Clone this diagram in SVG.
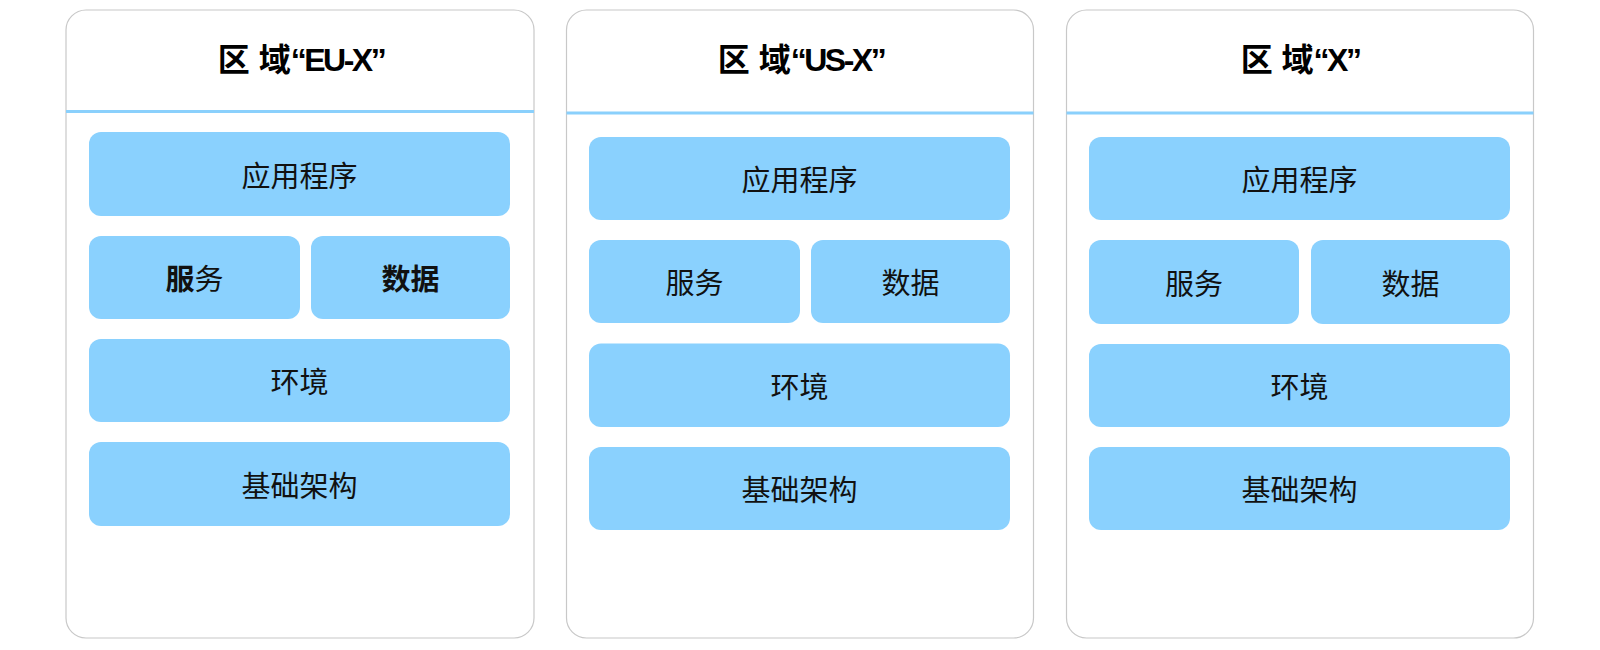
<svg xmlns="http://www.w3.org/2000/svg" width="1600" height="650" viewBox="0 0 1600 650">
<style>
.panel{fill:#ffffff;stroke:#c8c8c8;stroke-width:1.2}
.sep{stroke:#8ad0fc;stroke-width:3}
.box{fill:#8ad1fe}
.title{font-family:"Liberation Sans","Noto Sans CJK SC",sans-serif;font-weight:bold;font-size:32px;fill:#000;text-anchor:middle;dominant-baseline:central}
.lat{letter-spacing:-2.5px}
.lbl{font-family:"Noto Sans CJK SC",sans-serif;font-weight:normal;font-size:29px;fill:#111;text-anchor:middle;dominant-baseline:central}
.b{font-weight:bold}
</style>
<rect width="1600" height="650" fill="#ffffff"/>
<g id="region-eu">
<rect class="panel" x="66" y="10" width="468" height="628" rx="20"/>
<line class="sep" x1="66" y1="111.5" x2="534" y2="111.5"/>
<text class="title" x="301" y="60">区 域<tspan class="lat">“EU-X”</tspan></text>
<g id="eu-app"><rect class="box" x="89" y="132" width="421" height="84" rx="12"/><text class="lbl" x="299.5" y="173.5">应用程序</text></g>
<g id="eu-svc"><rect class="box" x="89" y="236" width="211" height="83" rx="12"/><text class="lbl" x="194.5" y="277"><tspan class="b">服</tspan>务</text></g>
<g id="eu-data"><rect class="box" x="311" y="236" width="199" height="83" rx="12"/><text class="lbl b" x="410.5" y="277">数据</text></g>
<g id="eu-env"><rect class="box" x="89" y="339" width="421" height="83" rx="12"/><text class="lbl" x="299.5" y="380">环境</text></g>
<g id="eu-infra"><rect class="box" x="89" y="442" width="421" height="84" rx="12"/><text class="lbl" x="299.5" y="483.5">基础架构</text></g>
</g>
<g id="region-us">
<rect class="panel" x="566.5" y="10" width="467" height="628" rx="20"/>
<line class="sep" x1="566.5" y1="113" x2="1033.5" y2="113"/>
<text class="title" x="801" y="60">区 域<tspan class="lat">“US-X”</tspan></text>
<g id="us-app"><rect class="box" x="589" y="137" width="421" height="83" rx="12"/><text class="lbl" x="799.5" y="178">应用程序</text></g>
<g id="us-svc"><rect class="box" x="589" y="240" width="211" height="83" rx="12"/><text class="lbl" x="694.5" y="281">服务</text></g>
<g id="us-data"><rect class="box" x="811" y="240" width="199" height="83" rx="12"/><text class="lbl" x="910.5" y="281">数据</text></g>
<g id="us-env"><rect class="box" x="589" y="343.5" width="421" height="83.5" rx="12"/><text class="lbl" x="799.5" y="384.5">环境</text></g>
<g id="us-infra"><rect class="box" x="589" y="447" width="421" height="83" rx="12"/><text class="lbl" x="799.5" y="488">基础架构</text></g>
</g>
<g id="region-x">
<rect class="panel" x="1066.5" y="10" width="467" height="628" rx="20"/>
<line class="sep" x1="1066.5" y1="113" x2="1533.5" y2="113"/>
<text class="title" x="1300" y="60">区 域<tspan class="lat">“X”</tspan></text>
<g id="x-app"><rect class="box" x="1089" y="137" width="421" height="83" rx="12"/><text class="lbl" x="1299.5" y="178">应用程序</text></g>
<g id="x-svc"><rect class="box" x="1089" y="240" width="210" height="84" rx="12"/><text class="lbl" x="1194" y="281.5">服务</text></g>
<g id="x-data"><rect class="box" x="1311" y="240" width="199" height="84" rx="12"/><text class="lbl" x="1410.5" y="281.5">数据</text></g>
<g id="x-env"><rect class="box" x="1089" y="344" width="421" height="83" rx="12"/><text class="lbl" x="1299.5" y="385">环境</text></g>
<g id="x-infra"><rect class="box" x="1089" y="447" width="421" height="83" rx="12"/><text class="lbl" x="1299.5" y="488">基础架构</text></g>
</g>
<g id="connectors"></g>
</svg>
